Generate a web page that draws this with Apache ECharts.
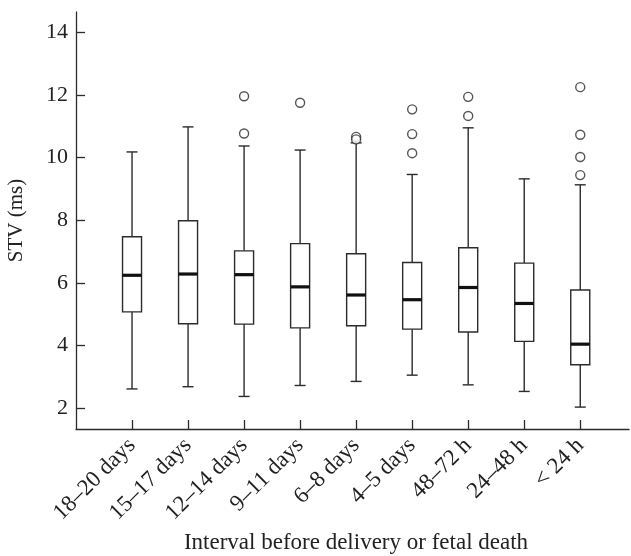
<!DOCTYPE html>
<html>
<head>
<meta charset="utf-8">
<script src="https://cdn.jsdelivr.net/npm/echarts@6/dist/echarts.min.js"></script>
<style>
html,body{margin:0;padding:0;background:#fff;}
#main{width:631px;height:556px;}
</style>
</head>
<body>
<div id="main"></div>
<script>
// ---- data ----
var categories = ['18\u201320 days','15\u201317 days','12\u201314 days','9\u201311 days','6\u20138 days','4\u20135 days','48\u201372 h','24\u201348 h','< 24 h'];
var mins    = [2.61, 2.68, 2.37, 2.72, 2.85, 3.05, 2.74, 2.53, 2.03];
var q1s     = [5.07, 4.69, 4.68, 4.56, 4.63, 4.52, 4.43, 4.13, 3.38];
var medians = [6.24, 6.28, 6.26, 5.87, 5.61, 5.46, 5.85, 5.34, 4.04];
var q3s     = [7.47, 7.98, 7.02, 7.25, 6.93, 6.65, 7.12, 6.63, 5.77];
var maxs    = [10.18, 10.98, 10.37, 10.24, 10.47, 9.46, 10.95, 9.32, 9.13];
var outlierCat = [3, 3, 4, 5, 5, 6, 6, 6, 7, 7, 9, 9, 9, 9];
var outlierVal = [11.96, 10.77, 11.75, 10.66, 10.58, 11.54, 10.75, 10.14, 11.94, 11.33, 12.25, 10.73, 10.02, 9.44];
var yTicks = [2, 4, 6, 8, 10, 12, 14];
var xAxisTitle = 'Interval before delivery or fetal death';
var yAxisTitle = 'STV (ms)';

// ---- build ----
var catPos = categories.map(function (c, i) { return i + 1; });
var boxData = categories.map(function (c, i) {
  return [catPos[i], mins[i], q1s[i], medians[i], q3s[i], maxs[i]];
});
var outData = outlierCat.map(function (c, i) { return [c, outlierVal[i]]; });

var FONT = '"Liberation Serif", "DejaVu Serif", serif';
var LINE = '#2b2b2b';

var chart = echarts.init(document.getElementById('main'), null, {renderer: 'canvas'});
chart.setOption({
  animation: false,
  backgroundColor: '#fff',
  grid: {left: 76, right: 2, top: 12, bottom: 127, containLabel: false, outerBoundsMode: 'none'},
  xAxis: {
    type: 'value', min: 0, max: 9.87,
    splitLine: {show: false},
    axisLine: {show: true, lineStyle: {color: LINE, width: 1.3}},
    axisTick: {show: true, inside: true, length: 9, customValues: catPos, lineStyle: {color: LINE, width: 1.3}},
    axisLabel: {
      customValues: catPos, rotate: 45, margin: 13,
      fontFamily: FONT, fontSize: 23, color: '#222',
      formatter: function (v) { return categories[Math.round(v) - 1] || ''; }
    },
    name: xAxisTitle, nameLocation: 'middle', nameGap: 97,
    nameTextStyle: {fontFamily: FONT, fontSize: 23, color: '#222', padding: [0, 0, 0, 7]}
  },
  yAxis: {
    type: 'value', min: 1.33, max: 14.65,
    splitLine: {show: false},
    axisLine: {show: true, lineStyle: {color: LINE, width: 1.3}},
    axisTick: {show: true, inside: true, length: 9, customValues: yTicks, lineStyle: {color: LINE, width: 1.3}},
    axisLabel: {customValues: yTicks, margin: 8, fontFamily: FONT, fontSize: 22, color: '#222'},
    name: yAxisTitle, nameLocation: 'middle', nameGap: 49, nameRotate: 90,
    nameTextStyle: {fontFamily: FONT, fontSize: 21, color: '#222'}
  },
  series: [
    {
      type: 'custom',
      data: boxData,
      encode: {x: 0, y: [1, 2, 3, 4, 5]},
      renderItem: function (params, api) {
        var x = api.value(0);
        var pMin = api.coord([x, api.value(1)]);
        var pQ1 = api.coord([x, api.value(2)]);
        var pMed = api.coord([x, api.value(3)]);
        var pQ3 = api.coord([x, api.value(4)]);
        var pMax = api.coord([x, api.value(5)]);
        var cx = pMin[0];
        var bw = 19, cw = 11;
        var st = {stroke: LINE, lineWidth: 1.4, fill: null};
        return {
          type: 'group',
          children: [
            {type: 'line', shape: {x1: cx, y1: pMax[1], x2: cx, y2: pQ3[1]}, style: st},
            {type: 'line', shape: {x1: cx, y1: pQ1[1], x2: cx, y2: pMin[1]}, style: st},
            {type: 'line', shape: {x1: cx - cw / 2, y1: pMax[1], x2: cx + cw / 2, y2: pMax[1]}, style: st},
            {type: 'line', shape: {x1: cx - cw / 2, y1: pMin[1], x2: cx + cw / 2, y2: pMin[1]}, style: st},
            {type: 'rect', shape: {x: cx - bw / 2, y: pQ3[1], width: bw, height: pQ1[1] - pQ3[1]},
              style: {stroke: LINE, lineWidth: 1.4, fill: '#fff'}},
            {type: 'line', shape: {x1: cx - bw / 2, y1: pMed[1], x2: cx + bw / 2, y2: pMed[1]},
              style: {stroke: '#111', lineWidth: 3.2}}
          ]
        };
      }
    },
    {
      type: 'scatter',
      data: outData,
      symbol: 'circle',
      symbolSize: 9,
      itemStyle: {color: '#fff', borderColor: LINE, borderWidth: 1.4}
    }
  ]
});
</script>
</body>
</html>
